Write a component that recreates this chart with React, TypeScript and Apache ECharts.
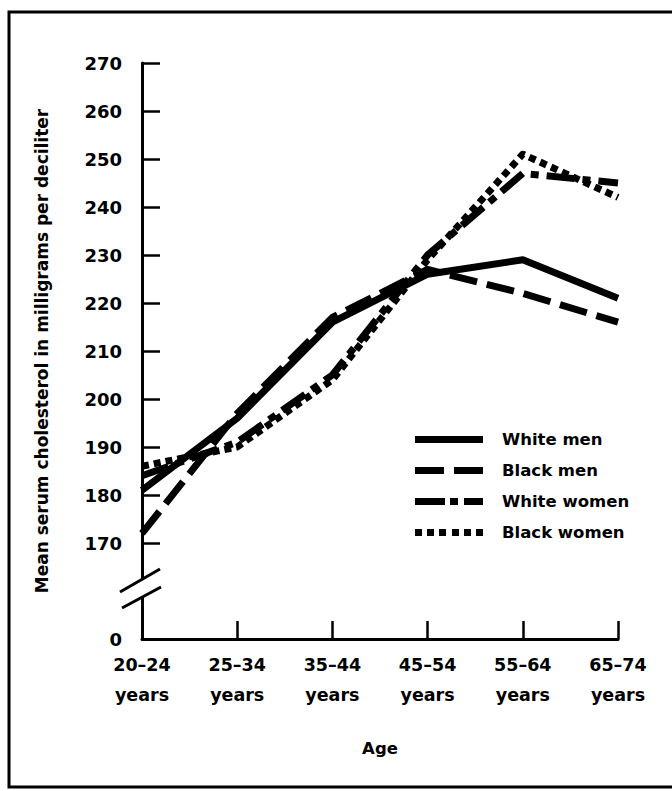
import React, { useEffect, useRef } from "react";
import * as echarts from "echarts";

const categories = ["20–24\nyears", "25–34\nyears", "35–44\nyears", "45–54\nyears", "55–64\nyears", "65–74\nyears"];
const whiteMen = [181, 196, 216, 226, 229, 221];
const blackMen = [172, 197, 217, 227, 222, 216];
const whiteWomen = [184, 191, 205, 230, 247, 245];
const blackWomen = [186, 190, 204, 229, 251, 242];
const yTickValues = [170, 180, 190, 200, 210, 220, 230, 240, 250, 260, 270];
const yLabelValues = [150, 170, 180, 190, 200, 210, 220, 230, 240, 250, 260, 270];
const seriesNames = ["White men", "Black men", "White women", "Black women"];

const FONT = "DejaVu Sans";

const legendIcons = [
  "path://M0,0H68V7H0Z",
  "path://M0,0H29V7H0Z M39,0H68V7H39Z",
  "path://M0,0H30V7H0Z M35,0H43V7H35Z M49,0H68V7H49Z",
  "path://M0,0H7V7H0Z M12,0H19V7H12Z M24,0H31V7H24Z M37,0H44V7H37Z M49,0H56V7H49Z M61,0H68V7H61Z",
];

export default function App() {
  const ref = useRef<HTMLDivElement>(null);
  useEffect(() => {
    document.body.style.margin = "0";
    if (!ref.current) return;
    const chart = echarts.init(ref.current, null, { renderer: "svg" });
    const lineBase = { color: "#000", width: 7, cap: "butt", join: "round" };
    const mk = (name: string, data: number[], type: any) => ({
      name,
      type: "line",
      data,
      symbol: "none",
      lineStyle: { ...lineBase, type },
      itemStyle: { color: "#000" },
    });
    chart.setOption({
      animation: false,
      backgroundColor: "#fff",
      grid: { left: 142, right: 54, top: 63, bottom: 152 },
      legend: {
        orient: "vertical",
        left: 410,
        top: 426,
        itemWidth: 68,
        itemHeight: 7,
        itemGap: 14,
        data: seriesNames.map((n, i) => ({ name: n, icon: legendIcons[i] })),
        itemStyle: { color: "#000", borderWidth: 0 },
        textStyle: { fontFamily: FONT, fontWeight: "bold", fontSize: 16.5, color: "#000", padding: [0, 0, 0, 14] },
      },
      xAxis: {
        type: "category",
        data: categories,
        boundaryGap: false,
        name: "Age",
        nameLocation: "middle",
        nameGap: 101,
        nameTextStyle: { fontFamily: FONT, fontWeight: "bold", fontSize: 16.5, color: "#000" },
        axisLine: { lineStyle: { color: "#000", width: 3 } },
        axisTick: { inside: true, length: 18, lineStyle: { color: "#000", width: 2.5 } },
        axisLabel: { margin: 11, lineHeight: 30, fontFamily: FONT, fontWeight: "bold", fontSize: 17.5, color: "#000" },
      },
      yAxis: {
        type: "value",
        min: 150,
        max: 270,
        interval: 10,
        name: "Mean serum cholesterol in milligrams per deciliter",
        nameLocation: "middle",
        nameGap: 92,
        nameRotate: 90,
        nameTextStyle: { fontFamily: FONT, fontWeight: "bold", fontSize: 17, color: "#000" },
        axisLine: { show: true, lineStyle: { color: "#000", width: 3 } },
        axisTick: { show: true, inside: true, length: 18, customValues: yTickValues, lineStyle: { color: "#000", width: 2.5 } },
        axisLabel: {
          margin: 20,
          customValues: yLabelValues,
          fontFamily: FONT,
          fontWeight: "bold",
          fontSize: 18,
          color: "#000",
          formatter: (v: number) => (v === 150 ? "0" : String(v)),
        },
        splitLine: { show: false },
      },
      series: [
        mk(seriesNames[0], whiteMen, "solid"),
        mk(seriesNames[1], blackMen, [28, 10]),
        mk(seriesNames[2], whiteWomen, [28, 8, 8, 8]),
        mk(seriesNames[3], blackWomen, [7, 5]),
      ],
      graphic: [
        {
          type: "rect",
          z: 100,
          shape: { x: 9, y: 12, width: 700, height: 775 },
          style: { fill: "none", stroke: "#000", lineWidth: 3 },
        },
        {
          type: "rect",
          z: 100,
          shape: { x: 134, y: 580, width: 16, height: 17 },
          style: { fill: "#fff" },
        },
        {
          type: "line",
          z: 101,
          shape: { x1: 120, y1: 592, x2: 160, y2: 569 },
          style: { stroke: "#000", lineWidth: 3 },
        },
        {
          type: "line",
          z: 101,
          shape: { x1: 122, y1: 608, x2: 161, y2: 587 },
          style: { stroke: "#000", lineWidth: 3 },
        },
      ],
    });
    return () => chart.dispose();
  }, []);
  return <div ref={ref} style={{ position: "fixed", left: 0, top: 0, width: 672, height: 791 }} />;
}
